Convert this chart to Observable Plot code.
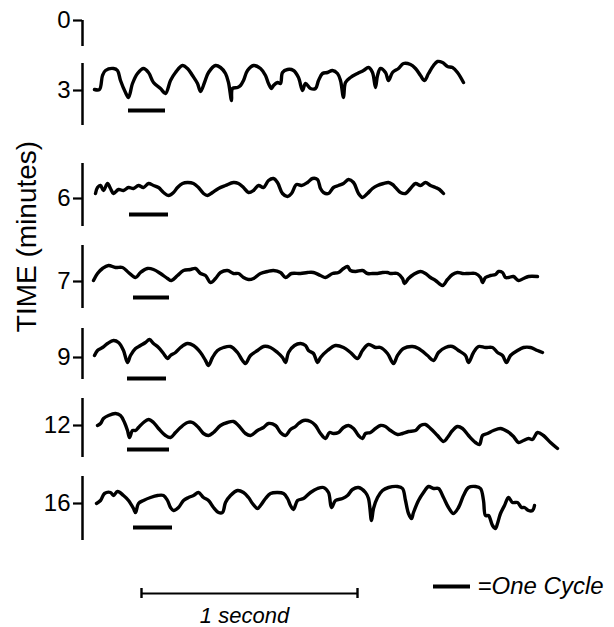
<!DOCTYPE html>
<html>
<head>
<meta charset="utf-8">
<script src="https://cdn.jsdelivr.net/npm/d3@7"></script>
<script src="https://cdn.jsdelivr.net/npm/@observablehq/plot@0.6"></script>
<style>
  html, body { margin: 0; padding: 0; background: #fff; overflow: hidden; }
  #chart svg { display: block; }
</style>
</head>
<body>
<div id="chart"></div>
<script>
// ---------------- DATA ----------------
// Row labels: recording time in minutes
const rowLabels = ["0", "3", "6", "7", "9", "12", "16"];

// Each trace: [t, v] pairs; t = chart distance along record, v = deflection (up positive)
const trace3 = [[-1,1],[4,1],[7,15],[10,20],[18,22],[22,20],[25,10],[30,-2],[33,-7],[37,7],[42,17],[48,22],[53,18],[58,8],[65,2],[70,-3],[75,10],[80,18],[87,25],[92,22],[97,15],[102,7],[105,-1],[109,8],[113,18],[120,25],[125,23],[130,17],[133,8],[136,-10],[137,2],[142,3],[145,5],[148,10],[152,20],[158,25],[165,22],[170,15],[173,7],[176,2],[178,5],[182,8],[185,7],[187,18],[192,21],[198,20],[203,13],[207,0],[210,7],[215,2],[220,2],[223,10],[227,17],[232,18],[237,20],[242,17],[245,10],[248,-7],[250,8],[255,13],[262,17],[268,20],[273,23],[277,18],[280,3],[282,15],[285,22],[290,18],[293,10],[297,18],[303,22],[308,27],[315,26],[320,22],[325,15],[329,10],[333,17],[338,25],[342,29],[347,28],[352,24],[357,23],[362,18],[368,8]];
const trace6 = [[0,5],[2,11],[5,13],[8,8],[12,15],[15,10],[18,5],[23,9],[28,8],[33,11],[38,10],[43,13],[48,11],[53,15],[58,13],[63,11],[68,6],[73,3],[78,6],[82,11],[87,15],[92,16],[98,15],[103,11],[108,5],[112,3],[117,6],[123,10],[130,13],[138,16],[143,15],[148,11],[153,6],[158,8],[163,13],[168,11],[173,18],[178,20],[182,16],[187,5],[192,2],[196,5],[201,14],[206,13],[212,16],[217,20],[222,19],[225,10],[228,6],[233,5],[238,11],[243,13],[248,15],[253,19],[258,16],[263,5],[267,1],[272,5],[277,10],[282,13],[288,15],[293,16],[297,14],[300,11],[305,6],[310,5],[315,10],[320,15],[325,13],[330,16],[335,13],[340,11],[344,9],[348,5]];
const trace7 = [[-2,1],[2,8],[7,13],[13,16],[20,14],[27,14],[33,9],[40,4],[45,9],[52,13],[58,12],[65,8],[72,3],[76,1],[82,6],[88,11],[95,12],[100,13],[105,8],[110,6],[115,-1],[120,3],[125,9],[132,11],[138,8],[143,8],[148,4],[153,2],[158,3],[165,8],[172,10],[178,11],[185,9],[190,4],[196,8],[205,8],[212,9],[218,9],[225,6],[230,4],[237,8],[243,9],[248,13],[252,15],[255,11],[260,10],[267,11],[272,8],[277,8],[282,8],[287,9],[292,9],[295,8],[302,8],[307,3],[309,-2],[313,3],[318,7],[325,10],[330,8],[335,4],[340,1],[347,-4],[352,2],[357,7],[362,9],[367,8],[373,8],[380,8],[385,4],[387,-1],[390,4],[395,6],[400,7],[403,10],[407,9],[410,4],[413,4],[418,5],[423,1],[428,3],[433,5],[442,5]];
const trace9 = [[-1,2],[2,7],[7,10],[12,14],[18,17],[23,15],[28,7],[32,-5],[35,2],[40,9],[45,12],[50,15],[54,18],[58,14],[63,10],[68,4],[72,-1],[75,2],[80,5],[85,10],[92,14],[98,12],[105,5],[110,-3],[113,-8],[117,0],[122,7],[128,10],[135,11],[142,5],[147,-3],[150,-6],[155,2],[162,7],[168,11],[175,10],[182,5],[187,0],[190,-5],[193,5],[199,12],[205,14],[210,12],[213,7],[218,4],[222,-5],[225,0],[232,7],[240,12],[248,10],[255,5],[262,-1],[267,7],[273,13],[280,10],[285,10],[292,4],[298,-6],[302,2],[308,9],[317,11],[323,9],[332,2],[338,-3],[343,5],[350,10],[357,11],[363,7],[370,2],[373,-5],[378,5],[383,11],[390,10],[397,10],[402,5],[407,2],[411,-5],[415,2],[422,7],[428,10],[435,10],[442,7],[447,5]];
const trace12 = [[2,0],[5,2],[8,7],[13,10],[20,12],[25,10],[29,3],[32,-5],[34,-12],[37,-5],[40,-5],[43,-2],[48,3],[53,6],[58,3],[63,-3],[70,-10],[75,-12],[80,-7],[85,-2],[92,3],[97,3],[103,-2],[108,-8],[113,-10],[118,-7],[125,0],[132,3],[138,4],[143,0],[150,-8],[155,-10],[162,-5],[168,-2],[173,2],[180,0],[185,-7],[190,-10],[195,-4],[200,-1],[203,2],[208,5],[215,4],[220,0],[225,-8],[230,-13],[234,-7],[238,-8],[243,-7],[248,-2],[253,0],[258,-3],[263,-10],[267,-13],[270,-8],[275,-7],[280,-3],[285,0],[290,-1],[295,-5],[302,-9],[307,-8],[313,-6],[320,-5],[325,0],[330,1],[335,-3],[342,-10],[348,-16],[352,-12],[357,-5],[362,-1],[367,-3],[373,-10],[380,-17],[384,-19],[387,-10],[392,-8],[398,-5],[405,-3],[412,-6],[418,-11],[423,-17],[428,-15],[433,-13],[437,-14],[442,-7],[448,-10],[455,-17],[462,-23]];
const trace16 = [[1,0],[5,3],[9,10],[15,11],[18,8],[22,12],[28,8],[33,3],[38,-5],[40,-9],[43,0],[48,3],[55,6],[62,8],[68,8],[72,3],[75,-4],[78,-7],[83,-4],[88,3],[93,6],[98,8],[103,11],[108,6],[113,3],[118,-4],[123,-9],[127,-9],[130,1],[135,8],[142,13],[148,11],[153,6],[157,0],[162,-5],[165,-2],[170,5],[175,10],[182,11],[188,10],[192,5],[195,-2],[198,-6],[202,3],[208,5],[215,11],[222,15],[228,16],[233,11],[236,-4],[240,3],[247,5],[252,8],[257,14],[263,16],[270,11],[273,5],[276,-17],[278,-5],[282,6],[287,13],[293,16],[302,17],[307,15],[310,3],[313,-10],[316,-15],[318,-9],[323,3],[328,11],[333,17],[338,15],[343,15],[348,6],[353,-4],[358,-10],[363,-4],[368,8],[373,16],[380,17],[385,15],[388,3],[390,-12],[393,-12],[397,-22],[400,-25],[402,-20],[405,-10],[409,-2],[413,6],[417,1],[422,1],[426,-4],[429,-4],[433,-7],[437,-7],[439,-2]];

const traces = {"3": trace3, "6": trace6, "7": trace7, "9": trace9, "12": trace12, "16": trace16};

// "One cycle" bars: rows, start and end along the record
const cycleRows = ["3", "6", "7", "9", "12", "16"];
const cycleStart = [33, 34, 38, 32, 32, 38];
const cycleEnd = [70, 73, 74, 71, 74, 77];

// Calibration
const unitsPerSecond = 216;           // chart distance for 1 second
const axisTitle = "TIME (minutes)";
const secondLabel = "1 second";
const cycleLabel = "=One Cycle";

// ---------------- LAYOUT ----------------
const W = 614, H = 627;
const xDomain = [-13, 503];
const rowY = {"0": 20, "3": 90, "6": 198, "7": 281, "9": 357, "12": 425, "16": 503};
const axisTop = {"0": 0, "3": -27, "6": -35, "7": -36, "9": -29, "12": -27, "16": -27};
const axisBottom = {"0": 26, "3": 35, "6": 28, "7": 27, "9": 22, "12": 32, "16": 37};
const cycleDrop = {"3": 20, "6": 16, "7": 16, "9": 21, "12": 24, "16": 24};
const scaleBar = {start: 46, y: 593, cap: 5};
const legend = {x1: 338, x2: 375, textX: 382, y: 586};
const secondText = {x: 149, y: 615};
const titlePos = {dx: -55, y: 236};

// ---------------- BUILD ----------------
const traceData = rowLabels
  .filter(r => traces[r])
  .flatMap(r => traces[r].map(([t, v]) => ({row: r, t, v})));

const tickLabel = new Map(rowLabels.map(r => [rowY[r], r]));
const ink = "#000";

const chart = Plot.plot({
  width: W,
  height: H,
  marginLeft: 82,
  marginRight: W - 82 - (xDomain[1] - xDomain[0]),
  marginTop: 0,
  marginBottom: 0,
  x: {domain: xDomain, axis: null},
  y: {domain: [0, H], reverse: true},
  style: {fontFamily: "'Liberation Sans', Arial, Helvetica, sans-serif", background: "#fff", color: ink},
  marks: [
    // per-row vertical axis segments
    Plot.ruleX(rowLabels, {
      x: () => xDomain[0],
      y1: r => rowY[r] + axisTop[r],
      y2: r => rowY[r] + axisBottom[r],
      stroke: ink, strokeWidth: 2.5
    }),
    Plot.axisY({
      ticks: rowLabels.map(r => rowY[r]),
      tickFormat: v => tickLabel.get(v),
      tickSize: 9,
      tickPadding: 3,
      fontSize: 24,
      strokeWidth: 2.2,
      stroke: ink,
      fill: ink,
      label: null
    }),
    // traces
    Plot.line(traceData, {
      x: "t",
      y: d => rowY[d.row] - d.v,
      z: "row",
      stroke: ink,
      strokeWidth: 3.4,
      curve: "catmull-rom",
      strokeLinejoin: "round",
      strokeLinecap: "round"
    }),
    // one-cycle bars
    Plot.ruleY(cycleRows, {
      x1: (r, i) => cycleStart[i],
      x2: (r, i) => cycleEnd[i],
      y: r => rowY[r] + cycleDrop[r],
      stroke: ink, strokeWidth: 4
    }),
    // 1 second scale bar
    Plot.ruleY([secondLabel], {
      x1: () => scaleBar.start,
      x2: () => scaleBar.start + unitsPerSecond,
      y: () => scaleBar.y,
      stroke: ink, strokeWidth: 2
    }),
    Plot.ruleX([scaleBar.start, scaleBar.start + unitsPerSecond], {
      x: d => d,
      y1: () => scaleBar.y - scaleBar.cap,
      y2: () => scaleBar.y + scaleBar.cap,
      stroke: ink, strokeWidth: 2.4
    }),
    Plot.text([secondLabel], {
      x: () => secondText.x,
      y: () => secondText.y,
      text: d => d,
      fontSize: 22,
      fontStyle: "italic",
      textAnchor: "middle",
      fill: ink
    }),
    // legend
    Plot.ruleY([cycleLabel], {
      x1: () => legend.x1,
      x2: () => legend.x2,
      y: () => legend.y,
      stroke: ink, strokeWidth: 4
    }),
    Plot.text([cycleLabel], {
      x: () => legend.textX,
      y: () => legend.y,
      text: d => d,
      fontSize: 24,
      fontStyle: "italic",
      textAnchor: "start",
      fill: ink
    }),
    // axis title
    Plot.text([axisTitle], {
      frameAnchor: "left",
      dx: titlePos.dx,
      y: () => titlePos.y,
      text: d => d,
      rotate: -90,
      fontSize: 28,
      textAnchor: "middle",
      fill: ink
    })
  ]
});

document.getElementById("chart").appendChild(chart);
</script>
</body>
</html>
